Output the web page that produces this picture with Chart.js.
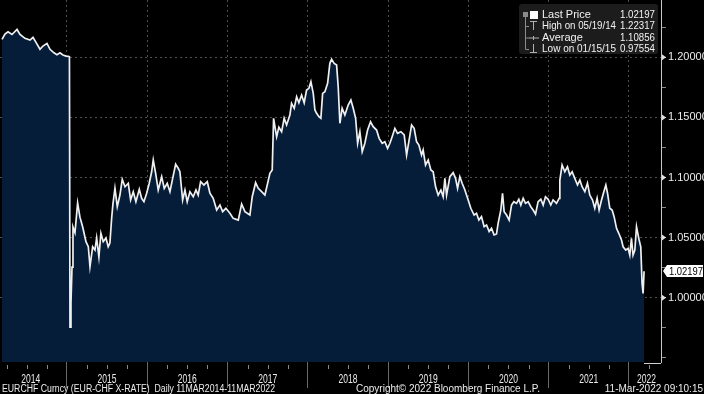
<!DOCTYPE html>
<html>
<head>
<meta charset="utf-8">
<script src="https://cdn.jsdelivr.net/npm/chart.js@4.4.1/dist/chart.umd.min.js"></script>
<style>
  html, body { margin: 0; padding: 0; background: #000; }
</style>
</head>
<body>
<canvas id="chart" width="704" height="394"></canvas>
<script>
// EURCHF daily (decimal years)
const dates = [
  2014.191, 2014.228, 2014.266, 2014.315, 2014.378, 2014.415, 2014.477, 2014.540, 2014.577, 2014.627, 2014.664, 2014.701, 2014.751, 2014.789, 2014.838, 2014.876, 2014.913, 2014.950, 2014.988,
  2015.019, 2015.031, 2015.038, 2015.050, 2015.063, 2015.075, 2015.100, 2015.133, 2015.162, 2015.196, 2015.237, 2015.266, 2015.287, 2015.320, 2015.349, 2015.370, 2015.398, 2015.423, 2015.452, 2015.486, 2015.514, 2015.535, 2015.557, 2015.573, 2015.598, 2015.627, 2015.660, 2015.689, 2015.723, 2015.764, 2015.793, 2015.826, 2015.859, 2015.901, 2015.930, 2015.959, 2015.993,
  2016.025, 2016.055, 2016.075, 2016.105, 2016.137, 2016.180, 2016.212, 2016.249, 2016.283, 2016.317, 2016.354, 2016.386, 2016.407, 2016.441, 2016.470, 2016.498, 2016.532, 2016.573, 2016.607, 2016.635, 2016.665, 2016.706, 2016.748, 2016.781, 2016.822, 2016.865, 2016.906, 2016.939, 2016.980,
  2017.030, 2017.071, 2017.134, 2017.176, 2017.217, 2017.279, 2017.308, 2017.350, 2017.383, 2017.425, 2017.466, 2017.500, 2017.528, 2017.557, 2017.574, 2017.591, 2017.612, 2017.640, 2017.674, 2017.706, 2017.736, 2017.777, 2017.798, 2017.831, 2017.861, 2017.889, 2017.923, 2017.955, 2017.985,
  2018.014, 2018.039, 2018.068, 2018.089, 2018.110, 2018.139, 2018.163, 2018.185, 2018.213, 2018.247, 2018.275, 2018.297, 2018.329, 2018.359, 2018.379, 2018.400, 2018.428, 2018.462, 2018.503, 2018.537, 2018.566, 2018.596, 2018.621, 2018.649, 2018.678, 2018.711, 2018.745, 2018.782, 2018.815, 2018.857, 2018.889, 2018.927, 2018.960, 2018.994,
  2019.023, 2019.051, 2019.085, 2019.118, 2019.160, 2019.201, 2019.231, 2019.259, 2019.293, 2019.325, 2019.355, 2019.384, 2019.417, 2019.437, 2019.467, 2019.500, 2019.533, 2019.562, 2019.592, 2019.624, 2019.658, 2019.686, 2019.708, 2019.729, 2019.770, 2019.811, 2019.841, 2019.866, 2019.894, 2019.923, 2019.957, 2019.998,
  2020.031, 2020.072, 2020.102, 2020.131, 2020.164, 2020.197, 2020.227, 2020.259, 2020.289, 2020.321, 2020.351, 2020.371, 2020.405, 2020.426, 2020.446, 2020.476, 2020.508, 2020.538, 2020.567, 2020.600, 2020.629, 2020.654, 2020.683, 2020.712, 2020.745, 2020.778, 2020.807, 2020.837, 2020.869, 2020.903, 2020.932, 2020.961, 2020.994,
  2021.027, 2021.056, 2021.098, 2021.131, 2021.140, 2021.168, 2021.202, 2021.235, 2021.264, 2021.293, 2021.326, 2021.360, 2021.389, 2021.417, 2021.451, 2021.484, 2021.513, 2021.547, 2021.575, 2021.604, 2021.629, 2021.659, 2021.688, 2021.713, 2021.734, 2021.762, 2021.791, 2021.816, 2021.846, 2021.874, 2021.908, 2021.928, 2021.961, 2021.990,
  2022.011, 2022.032, 2022.052, 2022.074, 2022.095, 2022.123, 2022.148, 2022.164, 2022.177, 2022.189,
];
const prices = [
  1.2150, 1.2194, 1.2213, 1.2190, 1.2232, 1.2190, 1.2158, 1.2144, 1.2166, 1.2110, 1.2067, 1.2094, 1.2116, 1.2067, 1.2038, 1.2022, 1.2038, 1.2020, 1.2010,
  1.2008, 1.2005, 0.9755, 0.9956, 1.0255, 1.0588, 1.0540, 1.0788, 1.0670, 1.0588, 1.0466, 1.0424, 1.0258, 1.0424, 1.0397, 1.0497, 1.0340, 1.0536, 1.0466, 1.0497, 1.0424, 1.0455, 1.0663, 1.0780, 1.0910, 1.0757, 1.0854, 1.0985, 1.0923, 1.0952, 1.0813, 1.0882, 1.0799, 1.0902, 1.0827, 1.0799, 1.0869,
  1.0952, 1.1048, 1.1146, 1.1035, 1.0896, 1.1007, 1.0910, 1.0952, 1.0882, 1.0993, 1.1110, 1.1077, 1.1048, 1.0813, 1.0896, 1.0799, 1.0882, 1.0840, 1.0896, 1.0854, 1.0965, 1.0938, 1.0965, 1.0869, 1.0827, 1.0730, 1.0771, 1.0716, 1.0744,
  1.0702, 1.0660, 1.0646, 1.0780, 1.0716, 1.0688, 1.0840, 1.0957, 1.0910, 1.0882, 1.0854, 1.0952, 1.1035, 1.1062, 1.1493, 1.1423, 1.1339, 1.1418, 1.1381, 1.1493, 1.1437, 1.1520, 1.1617, 1.1576, 1.1672, 1.1622, 1.1686, 1.1622, 1.1728,
  1.1742, 1.1797, 1.1700, 1.1562, 1.1534, 1.1506, 1.1493, 1.1700, 1.1714, 1.1784, 1.1950, 1.1983, 1.1950, 1.1936, 1.1755, 1.1451, 1.1576, 1.1520, 1.1603, 1.1645, 1.1576, 1.1493, 1.1285, 1.1381, 1.1215, 1.1285, 1.1395, 1.1464, 1.1423, 1.1395, 1.1326, 1.1285, 1.1298, 1.1243,
  1.1285, 1.1340, 1.1409, 1.1368, 1.1381, 1.1354, 1.1187, 1.1298, 1.1437, 1.1409, 1.1298, 1.1270, 1.1187, 1.1229, 1.1104, 1.1146, 1.1062, 1.1048, 1.0923, 1.0854, 1.0896, 1.0840, 1.0993, 1.0854, 1.1007, 1.1040, 1.0993, 1.0910, 1.1007, 1.0952, 1.0896, 1.0813,
  1.0744, 1.0688, 1.0702, 1.0646, 1.0674, 1.0591, 1.0605, 1.0550, 1.0577, 1.0522, 1.0530, 1.0619, 1.0730, 1.0869, 1.0716, 1.0688, 1.0646, 1.0771, 1.0799, 1.0785, 1.0819, 1.0771, 1.0827, 1.0785, 1.0799, 1.0757, 1.0730, 1.0696, 1.0799, 1.0819, 1.0771, 1.0840, 1.0819,
  1.0771, 1.0813, 1.0785, 1.0827, 1.0979, 1.1104, 1.1048, 1.1090, 1.1021, 1.1048, 1.0993, 1.0938, 1.0979, 1.0923, 1.0882, 1.0952, 1.0854, 1.0813, 1.0744, 1.0827, 1.0730, 1.0813, 1.0882, 1.0938, 1.0869, 1.0744, 1.0730, 1.0674, 1.0577, 1.0536, 1.0480, 1.0424, 1.0397, 1.0411,
  1.0355, 1.0494, 1.0355, 1.0397, 1.0591, 1.0494, 1.0424, 1.0120, 1.0036, 1.02197,
];

const yearTicks = [2015, 2016, 2017, 2018, 2019, 2020, 2021, 2022];
const yearLabels = ['2014', '2015', '2016', '2017', '2018', '2019', '2020', '2021', '2022'];
const yearLabelAt = [2014.55, 2015.5, 2016.5, 2017.5, 2018.5, 2019.5, 2020.5, 2021.5, 2022.22];
const yTicks = [0.95, 0.975, 1.0, 1.025, 1.05, 1.075, 1.1, 1.125, 1.15, 1.175, 1.2, 1.225];
const yMajor = [1.0, 1.05, 1.1, 1.15, 1.2];

const lastPrice = 1.02197;
const legendNames = ['Last Price', 'High on 05/19/14', 'Average', 'Low on 01/15/15'];
const legendValues = ['1.02197', '1.22317', '1.10856', '0.97554'];
const footerLeft = 'EURCHF Curncy (EUR-CHF X-RATE)  Daily 11MAR2014-11MAR2022';
const footerMid = 'Copyright\u00A9 2022 Bloomberg Finance L.P.';
const footerRight = '11-Mar-2022 09:10:15';

const FILL = '#061d3a';
const TEXT = '#ececec';
const NARROW = '"Liberation Sans Narrow", "Liberation Sans", Arial, sans-serif';

const isMajor = v => yMajor.some(m => Math.abs(m - v) < 1e-6);

// --- overlay: bottom labels, legend box, last price tag ---

const overlay = {
  id: 'overlay',
  afterDraw(chart) {
    const { ctx, chartArea: area } = chart;
    const xs = chart.scales.x;
    const ys = chart.scales.y;
    ctx.save();

    // quarter ticks under the axis
    ctx.strokeStyle = '#8a8a8a';
    ctx.lineWidth = 1;
    for (let yr = 2014; yr <= 2022; yr++) {
      [0.25, 0.5, 0.75].forEach(q => {
        const v = yr + q;
        if (v < xs.min || v > xs.max) return;
        const px = Math.round(xs.getPixelForValue(v)) + 0.5;
        ctx.beginPath();
        ctx.moveTo(px, area.bottom + 3);
        ctx.lineTo(px, area.bottom + 7);
        ctx.stroke();
      });
    }

    // short axis piece right of the last point
    ctx.strokeStyle = '#d0d0d0';
    ctx.beginPath();
    ctx.moveTo(xs.getPixelForValue(dates[dates.length - 1]), area.bottom + 1.5);
    ctx.lineTo(area.right, area.bottom + 1.5);
    ctx.stroke();

    // year labels
    ctx.fillStyle = TEXT;
    ctx.font = '13px ' + NARROW;
    ctx.textAlign = 'center';
    ctx.textBaseline = 'middle';
    yearLabels.forEach((lab, i) => {
      ctx.fillText(lab, xs.getPixelForValue(yearLabelAt[i]), area.bottom + 17, 19);
    });

    // footer
    ctx.font = '10px ' + NARROW;
    ctx.textAlign = 'left';
    ctx.fillText(footerLeft, 2, 389, 273);
    ctx.fillText(footerMid, 356, 389, 225);
    ctx.textAlign = 'right';
    ctx.fillText(footerRight, 703, 389, 108);

    // legend box
    ctx.fillStyle = '#1c1c1c';
    ctx.beginPath();
    ctx.roundRect(519, 4, 139, 50, 3);
    ctx.fill();
    const rowY = [15, 26, 37.5, 49];
    ctx.strokeStyle = '#8c8c8c';
    ctx.beginPath();
    ctx.moveTo(525.5, 16); ctx.lineTo(525.5, 49.5);
    rowY.slice(1).forEach(y => { ctx.moveTo(525.5, y + 0.5); ctx.lineTo(529, y + 0.5); });
    ctx.stroke();
    ctx.fillStyle = '#8c8c8c';
    ctx.fillRect(523, 12, 5, 5);
    ctx.fillStyle = '#ffffff';
    ctx.fillRect(530, 11, 8, 8);
    ctx.strokeStyle = '#b0b0b0';
    ctx.beginPath();
    // high marker
    ctx.moveTo(530, 21.5); ctx.lineTo(537, 21.5);
    ctx.moveTo(533.5, 21.5); ctx.lineTo(533.5, 30);
    // average marker
    ctx.moveTo(529, 38); ctx.lineTo(539, 38);
    ctx.moveTo(533.5, 36); ctx.lineTo(533.5, 40);
    // low marker
    ctx.moveTo(533.5, 44); ctx.lineTo(533.5, 52.5);
    ctx.moveTo(530, 52.5); ctx.lineTo(537, 52.5);
    ctx.stroke();

    ctx.font = '11px ' + NARROW;
    ctx.fillStyle = '#f2f2f2';
    legendNames.forEach((name, i) => {
      ctx.textAlign = 'left';
      ctx.fillText(name, 542, rowY[i], 74);
      ctx.textAlign = 'right';
      ctx.fillText(legendValues[i], 655, rowY[i], 35);
    });

    // last price tag on the axis
    const py = Math.round(ys.getPixelForValue(lastPrice));
    ctx.fillStyle = '#ffffff';
    ctx.beginPath();
    ctx.moveTo(area.right + 2, py);
    ctx.lineTo(area.right + 6, py - 6);
    ctx.lineTo(703, py - 6);
    ctx.lineTo(703, py + 6);
    ctx.lineTo(area.right + 6, py + 6);
    ctx.closePath();
    ctx.fill();
    ctx.fillStyle = '#000';
    ctx.textAlign = 'left';
    ctx.font = '11px ' + NARROW;
    ctx.fillText(lastPrice.toFixed(5), area.right + 8, py + 0.5, 34);

    // small arrow heads at the major y ticks
    ctx.fillStyle = '#e0e0e0';
    yMajor.forEach(v => {
      const y = ys.getPixelForValue(v);
      ctx.beginPath();
      ctx.moveTo(area.right + 1, y - 3);
      ctx.lineTo(area.right + 5, y);
      ctx.lineTo(area.right + 1, y + 3);
      ctx.closePath();
      ctx.fill();
    });

    ctx.restore();
  },
};

const ctx = document.getElementById('chart').getContext('2d');
new Chart(ctx, {
  type: 'line',
  data: {
    datasets: [{
      data: dates.map((d, i) => ({ x: d, y: prices[i] })),
      borderColor: '#f0f0f0',
      borderWidth: 1.7,
      backgroundColor: FILL,
      fill: 'start',
      pointRadius: 0,
      tension: 0,
    }],
  },
  options: {
    responsive: false,
    animation: false,
    layout: { padding: { left: 0, right: 0, top: 0, bottom: 6 } },
    plugins: { legend: { display: false }, tooltip: { enabled: false } },
    scales: {
      x: {
        type: 'linear',
        min: 2014.166,
        max: 2022.4,
        afterBuildTicks: s => { s.ticks = yearTicks.map(v => ({ value: v })); },
        ticks: { display: false },
        grid: { color: '#505050', tickColor: '#6a6a6a', tickLength: 26, tickBorderDash: [] },
        border: { display: false, dash: [2, 3] },
      },
      y: {
        position: 'right',
        min: 0.9465,
        max: 1.2477,
        afterBuildTicks: s => { s.ticks = yTicks.map(v => ({ value: v })); },
        afterFit: s => { s.width = 43; s.paddingTop = 0; s.paddingBottom = 0; },
        ticks: {
          color: TEXT,
          font: { size: 11, family: NARROW },
          padding: 2,
          callback: v => (isMajor(v) ? v.toFixed(5) : ''),
        },
        grid: {
          color: c => (isMajor(c.tick.value) ? '#505050' : 'transparent'),
          tickColor: c => (isMajor(c.tick.value) ? '#e0e0e0' : '#8a8a8a'),
          tickLength: 5,
          tickBorderDash: [],
        },
        border: { color: '#c8c8c8', width: 1, dash: [2, 3] },
      },
    },
  },
  plugins: [overlay],
});
</script>
</body>
</html>
